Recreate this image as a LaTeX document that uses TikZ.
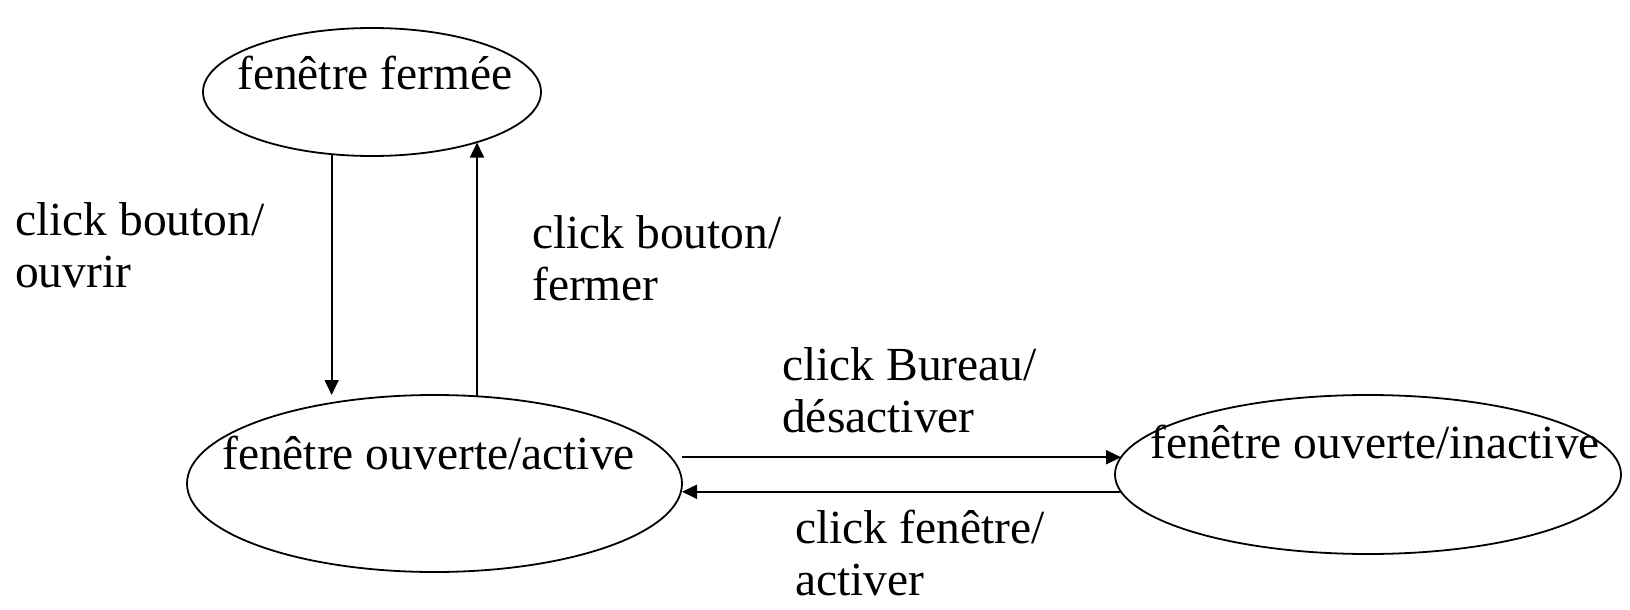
\documentclass[tikz,border=0pt]{standalone}
\usepackage{fontspec}
\setmainfont{Liberation Serif}
\usetikzlibrary{shapes.geometric,arrows.meta}
\begin{document}
\begin{tikzpicture}[x=1pt,y=-1pt,
  st/.style={draw, ellipse, line width=1.8pt, outer sep=0pt, inner sep=0pt},
  txt/.style={inner sep=0pt, anchor=base west, font=\fontsize{47.5}{52}\selectfont, align=left},
  arr/.style={line width=1.8pt, -{Triangle[length=15pt,width=14pt]}}]
\useasboundingbox (0,0) rectangle (1630,610);
\node[st, minimum width=338pt, minimum height=128pt] (ff) at (372,92) {};
\node[st, minimum width=495pt, minimum height=177pt] (act) at (434.5,483.5) {};
\node[st, minimum width=506pt, minimum height=159pt] (ina) at (1368,474.5) {};
\node[txt] (tff) at (237,89) {fenêtre fermée};
\node[txt] (tact) at (222,469) {fenêtre ouverte/active};
\node[txt] (tina) at (1150,458) {fenêtre ouverte/inactive};
\node[txt] (l1) at (15,287) {click bouton/\\ouvrir};
\node[txt] (l2) at (532,300) {click bouton/\\fermer};
\node[txt] (l3) at (782,432) {click Bureau/\\désactiver};
\node[txt] (l4) at (795,595) {click fenêtre/\\activer};
\draw[arr] (ff.237.6) -- (ff.237.6 |- act.north);
\draw[arr] (act.64.4) -- (act.64.4 |- ff.334.1);
\draw[arr] (act.east |- ina.176.7) -- (ina.176.7);
\draw[arr] (ina.184) -- (act.east |- ina.184);
\end{tikzpicture}
\end{document}
